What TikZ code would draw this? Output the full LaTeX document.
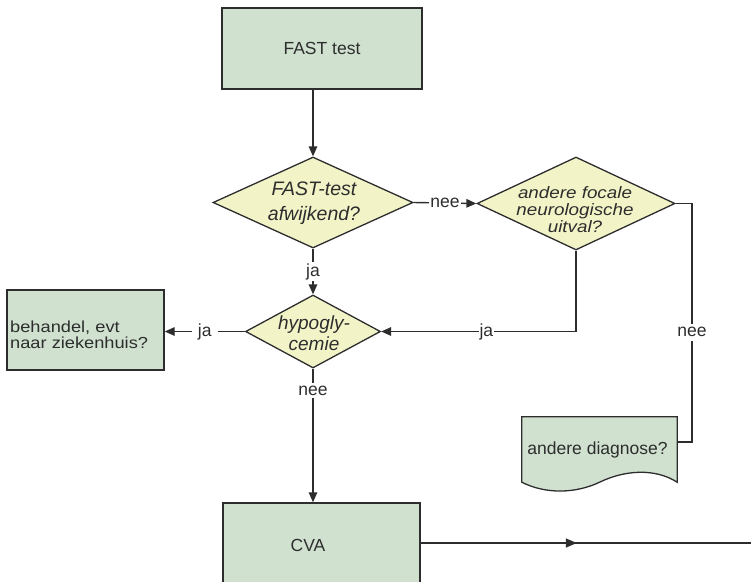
\documentclass[tikz,border=0pt]{standalone}
\usepackage{fontspec}
\setmainfont{Liberation Sans}
\newfontfamily\widesans[FakeStretch=1.14]{Liberation Sans}
\usetikzlibrary{shapes.geometric,arrows.meta,decorations.markings,calc}
\definecolor{boxfill}{RGB}{208,225,208}
\definecolor{diafill}{RGB}{242,244,200}
\definecolor{linec}{RGB}{45,45,45}
\definecolor{txt}{RGB}{45,45,45}
\begin{document}
\begin{tikzpicture}[x=1pt,y=-1pt,
  boxnode/.style={draw=linec, line width=1.4pt, fill=boxfill, rectangle, inner sep=0pt,
    text=txt, font=\fontsize{17.5}{18}\selectfont},
  dianode/.style={draw=linec, line width=1.3pt, fill=diafill, diamond, inner sep=0pt},
  diatext/.style={text=txt, align=center, inner sep=0pt},
  lab/.style={fill=white, inner sep=1.5pt, text=txt, font=\fontsize{17.5}{18}\selectfont},
  conn/.style={draw=linec, line width=1.4pt},
  arr/.style={conn, -{Triangle[length=10pt,width=8.5pt]}},
  midarr/.style={conn, postaction={decorate}, decoration={markings,
    mark=at position 0.46 with {\arrow{Triangle[length=11pt,width=9pt]}}}}
]
\clip (0,0) rectangle (751,581);
\fill[white] (0,0) rectangle (751,581);

% boxes
\node[boxnode, minimum width=200pt, minimum height=81pt] (fast) at (322,48.5) {FAST test};
\node[boxnode, minimum width=157pt, minimum height=80pt] (beh) at (85.5,330) {};
\node[diatext, anchor=west, align=left, font=\widesans\fontsize{16}{16.5}\selectfont] (behtext) at (10,335) {behandel, evt\\naar ziekenhuis?};
\node[boxnode, minimum width=197pt, minimum height=80pt] (cva) at (321.5,543) {};
\node[diatext, font=\fontsize{17.5}{18}\selectfont] (cvatext) at (308,545) {CVA};

% diamonds
\node[dianode, minimum width=200pt, minimum height=91pt] (d1) at (313,202.5) {};
\node[diatext, font=\itshape\fontsize{19.5}{25}\selectfont] (d1text) at (314,203) {FAST-test\\afwijkend?};
\node[dianode, minimum width=198pt, minimum height=93pt] (d3) at (576,203.5) {};
\node[diatext, font=\widesans\itshape\fontsize{16.5}{17}\selectfont] (d3text) at (575,210) {andere focale\\neurologische\\uitval?};
\node[dianode, minimum width=135pt, minimum height=73pt] (d2) at (313,331.5) {};
\node[diatext, font=\itshape\fontsize{19}{21}\selectfont] (d2text) at (314,333) {hypogly-\\cemie};

% document shape
\node[rectangle, inner sep=0pt, minimum width=155pt, minimum height=65pt] (doc) at (599.5,449.5) {};
\filldraw[fill=boxfill, draw=linec, line width=1.3pt]
  (doc.north west) -- (doc.north east) -- (doc.south east)
  .. controls (655,468) and (625,470) .. (600,482)
  .. controls (575,494) and (545,494) .. (doc.south west) -- cycle;
\node[diatext, font=\fontsize{17.5}{18}\selectfont] (doctext) at (597.5,449.5) {andere diagnose?};

% connectors
\draw[arr] (d1.north |- fast.south) -- (d1.north);
\draw[arr] (d1.east) -- node[lab, inner sep=1pt] {nee} (d3.west);
\draw[arr] (d1.south) -- node[lab, inner sep=1pt] {ja} (d2.north);
\draw[arr] (d2.west) -- node[lab, inner xsep=6pt] {ja} (beh.east |- d2.west);
\draw[arr] (d3.south) |- node[lab, pos=0.73, inner sep=1pt] {ja} (d2.east);
\coordinate (rt) at (692,442);
\draw[conn] (d3.east) -| (rt) node[lab, pos=0.77, inner xsep=2pt, inner ysep=4pt] {nee} -- ([yshift=7.5pt]doc.east);
\draw[arr] (d2.south) -- node[lab, pos=0.163, inner sep=3pt] {nee} (d2.south |- cva.north);
\coordinate (out) at (760,543);
\draw[midarr] (cva.east) -- (out);
\end{tikzpicture}
\end{document}
